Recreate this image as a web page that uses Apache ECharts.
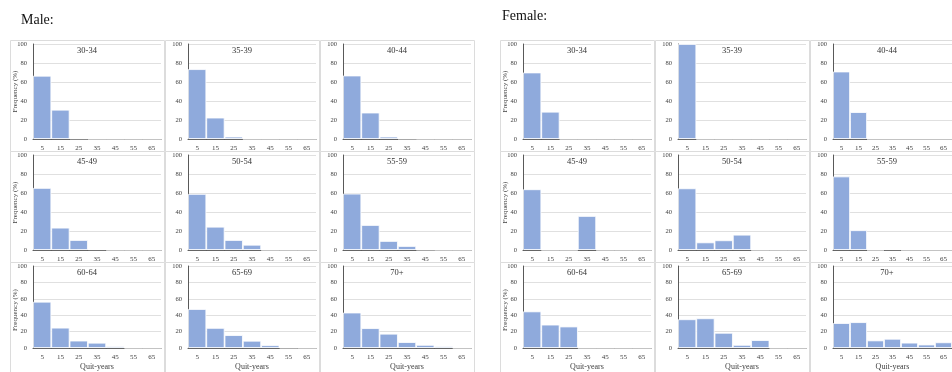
<!DOCTYPE html>
<html>
<head>
<meta charset="utf-8">
<script src="https://cdn.jsdelivr.net/npm/echarts@6/dist/echarts.min.js"></script>
<style>
  html, body { margin: 0; padding: 0; background: #fff; }
  #chart { width: 952px; height: 372px; }
</style>
</head>
<body>
<div id="chart"></div>
<script>
// Bin centres of quit-years (10-year bins)
const quitYears = ['5', '15', '25', '35', '45', '55', '65'];
const ageGroups = ['30-34', '35-39', '40-44', '45-49', '50-54', '55-59', '60-64', '65-69', '70+'];

// Male frequency (%) per bin, by age group
const male_30_34 = [66.6, 30.8, 0.6, 0, 0, 0, 0];
const male_35_39 = [73.5, 22.5, 2.5, 0, 0, 0, 0];
const male_40_44 = [66.8, 27.8, 2.5, 0.3, 0, 0, 0];
const male_45_49 = [65.3, 23.5, 10.5, 0.8, 0, 0, 0];
const male_50_54 = [59, 24.5, 10.5, 5.5, 0, 0, 0];
const male_55_59 = [59.3, 26.3, 9.5, 4.2, 0.3, 0, 0];
const male_60_64 = [56.4, 24.8, 9, 6.4, 2.3, 0, 0];
const male_65_69 = [47.5, 24.5, 15.7, 8.8, 3.4, 0.3, 0];
const male_70p = [43.2, 24.2, 17.4, 7.2, 3.8, 2.3, 0];

// Female frequency (%) per bin, by age group
const female_30_34 = [70, 28.7, 0, 0, 0, 0, 0];
const female_35_39 = [100, 0, 0, 0, 0, 0, 0];
const female_40_44 = [71, 28.3, 0, 0, 0, 0, 0];
const female_45_49 = [63.9, 0, 0, 35.8, 0, 0, 0];
const female_50_54 = [64.9, 8, 10.2, 16.1, 0, 0, 0];
const female_55_59 = [77.4, 20.8, 0, 0.8, 0, 0, 0];
const female_60_64 = [44.6, 28.5, 26.2, 0, 0, 0, 0];
const female_65_69 = [35, 36.2, 18.5, 3.8, 9.6, 0, 0];
const female_70p = [30.4, 31.5, 9.2, 11.2, 6.5, 4.2, 6.9];

const maleData = [male_30_34, male_35_39, male_40_44, male_45_49, male_50_54, male_55_59, male_60_64, male_65_69, male_70p];
const femaleData = [female_30_34, female_35_39, female_40_44, female_45_49, female_50_54, female_55_59, female_60_64, female_65_69, female_70p];

// Panel geometry
const panels = [
  { name: 'Male:', cols: [10, 165, 320], data: maleData, titleX: 16, titleY: 8 },
  { name: 'Female:', cols: [500, 655, 810], data: femaleData, titleX: 497, titleY: 4 }
];
const rowTops = [40, 151, 262];
const boxW = 154;
const axisOffset = 23;
const plotW = 128;

const serif = '"Liberation Serif", "Times New Roman", serif';
const barColor = '#8faadc';

const grids = [], xAxes = [], yAxes = [], series = [], graphics = [], titles = [];

panels.forEach(p => {
  titles.push({
    text: p.name, left: p.titleX, top: p.titleY,
    textStyle: { fontFamily: serif, fontSize: 14, fontWeight: 'normal', color: '#111' }
  });
  for (let r = 0; r < 3; r++) {
    for (let c = 0; c < 3; c++) {
      const k = r * 3 + c;
      const idx = grids.length;
      const x0 = p.cols[c];
      const y0 = rowTops[r];
      const plotTop = y0 + 4;
      const plotH = r === 2 ? 88 : 95;
      grids.push({ left: x0 + axisOffset, top: plotTop, width: plotW, height: plotH, containLabel: false });
      // chart-area frame
      graphics.push({
        type: 'rect', silent: true, z: -1,
        shape: { x: x0 + 0.5, y: y0 + 0.5, width: boxW, height: r === 2 ? 114 : 111 },
        style: { fill: 'none', stroke: '#dcdcdc', lineWidth: 1 }
      });
      // age-group title
      graphics.push({
        type: 'text', silent: true,
        x: x0 + boxW / 2, y: y0 + 6,
        style: { text: ageGroups[k], fontFamily: serif, fontSize: 8.5, fill: '#333', align: 'center' }
      });
      // vertical axis title on the left column
      if (c === 0) {
        graphics.push({
          type: 'text', silent: true,
          x: x0 + 5, y: plotTop + plotH / 2, rotation: Math.PI / 2,
          style: { text: 'Frequency (%)', fontFamily: serif, fontSize: 7, fill: '#404040',
                   align: 'center', verticalAlign: 'middle' }
        });
      }
      xAxes.push({
        type: 'category', gridIndex: idx, data: quitYears,
        axisTick: { show: false },
        axisLine: { lineStyle: { color: '#595959', width: 1 } },
        axisLabel: { interval: 0, fontFamily: serif, fontSize: 7, color: '#404040', margin: 6 },
        name: r === 2 ? 'Quit-years' : '',
        nameLocation: 'middle', nameGap: 15,
        nameTextStyle: { fontFamily: serif, fontSize: 8, color: '#404040' }
      });
      yAxes.push({
        type: 'value', gridIndex: idx, min: 0, max: 100, interval: 20,
        axisLine: { show: true, lineStyle: { color: '#595959', width: 1 } },
        axisTick: { show: false },
        splitLine: { lineStyle: { color: '#e0e0e0', width: 1 } },
        axisLabel: { fontFamily: serif, fontSize: 6.5, color: '#404040', margin: 6 }
      });
      series.push({
        type: 'bar', xAxisIndex: idx, yAxisIndex: idx,
        data: p.data[k],
        barCategoryGap: '0%',
        itemStyle: { color: barColor, borderColor: '#ffffff', borderWidth: 0.8 },
        silent: true, animation: false
      });
    }
  }
});

const chart = echarts.init(document.getElementById('chart'), null, { renderer: 'canvas' });
chart.setOption({
  backgroundColor: '#fff',
  animation: false,
  title: titles,
  grid: grids,
  xAxis: xAxes,
  yAxis: yAxes,
  series: series,
  graphic: graphics
});
</script>
</body>
</html>
